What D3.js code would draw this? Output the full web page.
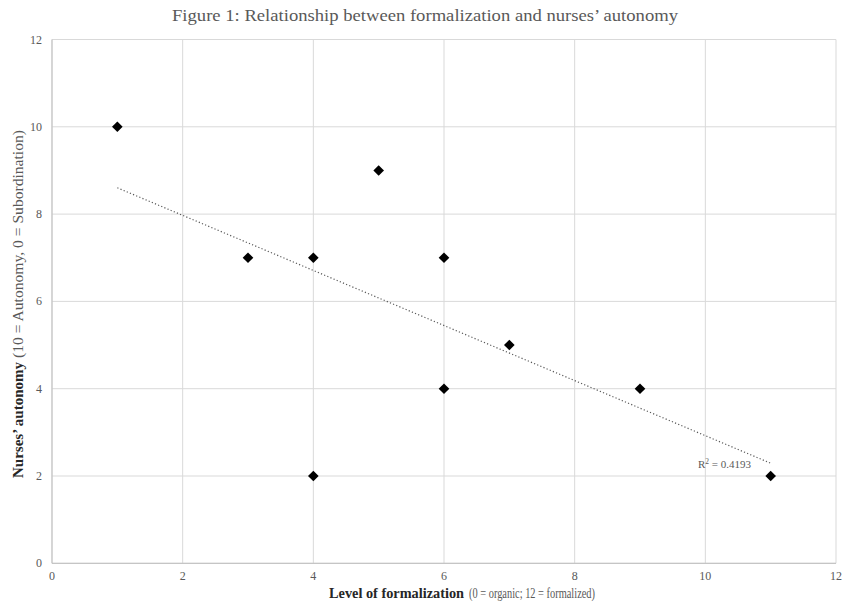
<!DOCTYPE html>
<html><head><meta charset="utf-8">
<script src="https://cdn.jsdelivr.net/npm/d3@7"></script>
<style>body{margin:0;background:#fff}</style>
</head><body>
<svg id="c" width="843" height="604"></svg>
<script>
const formalization = [1, 3, 4, 4, 5, 6, 6, 7, 9, 11];
const autonomy =      [10, 7, 7, 2, 9, 7, 4, 5, 4, 2];
const xTicks = [0, 2, 4, 6, 8, 10, 12];
const yTicks = [0, 2, 4, 6, 8, 10, 12];
const titleText = "Figure 1: Relationship between formalization and nurses\u2019 autonomy";

const svg = d3.select("#c");
const font = "'Liberation Serif', 'DejaVu Serif', serif";
const m = {l: 52, r: 843 - 836, t: 39.5, b: 604 - 563.3};
const x = d3.scaleLinear().domain([0, 12]).range([m.l, 843 - m.r]);
const y = d3.scaleLinear().domain([0, 12]).range([604 - m.b, m.t]);

// gridlines
svg.append("g").selectAll("line").data(xTicks).join("line")
  .attr("x1", d => x(d)).attr("x2", d => x(d)).attr("y1", y(0)).attr("y2", y(12))
  .attr("stroke", "#d9d9d9").attr("stroke-width", 1);
svg.append("g").selectAll("line").data(yTicks).join("line")
  .attr("x1", x(0)).attr("x2", x(12)).attr("y1", d => y(d)).attr("y2", d => y(d))
  .attr("stroke", "#d9d9d9").attr("stroke-width", 1);

// axes lines
svg.append("line").attr("x1", x(0)).attr("x2", x(12)).attr("y1", y(0)).attr("y2", y(0)).attr("stroke", "#bfbfbf");
svg.append("line").attr("x1", x(0)).attr("x2", x(0)).attr("y1", y(0)).attr("y2", y(12)).attr("stroke", "#bfbfbf");

// tick labels
svg.append("g").selectAll("text").data(xTicks).join("text")
  .attr("x", d => x(d)).attr("y", y(0) + 17).attr("text-anchor", "middle")
  .attr("font-family", font).attr("font-size", 12).attr("fill", "#595959").text(d => d);
svg.append("g").selectAll("text").data(yTicks).join("text")
  .attr("x", x(0) - 10).attr("y", d => y(d) + 4).attr("text-anchor", "end")
  .attr("font-family", font).attr("font-size", 12).attr("fill", "#595959").text(d => d);

// trendline (least squares)
const n = formalization.length;
const mx = d3.mean(formalization), my = d3.mean(autonomy);
let sxy = 0, sxx = 0;
for (let i = 0; i < n; i++) { sxy += (formalization[i]-mx)*(autonomy[i]-my); sxx += (formalization[i]-mx)**2; }
const slope = sxy / sxx, icpt = my - slope * mx;
const [x0, x1] = d3.extent(formalization);
svg.append("line")
  .attr("x1", x(x0)).attr("y1", y(icpt + slope*x0))
  .attr("x2", x(x1)).attr("y2", y(icpt + slope*x1))
  .attr("stroke", "#595959").attr("stroke-width", 1.2).attr("stroke-dasharray", "1.2,2.2");

// points
const diamond = d3.symbol().type(d3.symbolDiamond2).size(72);
svg.append("g").selectAll("path").data(formalization.map((v, i) => [v, autonomy[i]])).join("path")
  .attr("d", diamond).attr("transform", d => `translate(${x(d[0])},${y(d[1])})`)
  .attr("fill", "#000");

// R² label
svg.append("text").attr("x", 698).attr("y", 468).attr("text-anchor", "start")
  .attr("font-family", font).attr("font-size", 11).attr("fill", "#595959")
  .html('R<tspan dy="-4" font-size="7.5">2</tspan><tspan dy="4"> = 0.4193</tspan>');

// title
svg.append("text").attr("x", 172).attr("y", 21).attr("text-anchor", "start")
  .attr("font-family", font).attr("font-size", 17).attr("fill", "#595959")
  .attr("textLength", 506).attr("lengthAdjust", "spacingAndGlyphs").text(titleText);

// x axis title
svg.append("text").attr("x", 329).attr("y", 598)
  .attr("font-family", font).attr("font-size", 14).attr("font-weight", "bold").attr("fill", "#262626")
  .attr("textLength", 135).attr("lengthAdjust", "spacingAndGlyphs").text("Level of formalization");
svg.append("text").attr("x", 469).attr("y", 598)
  .attr("font-family", font).attr("font-size", 14).attr("fill", "#595959")
  .attr("textLength", 126).attr("lengthAdjust", "spacingAndGlyphs").text("(0 = organic; 12 = formalized)");

// y axis title
svg.append("text").attr("transform", "translate(23,478) rotate(-90)")
  .attr("font-family", font).attr("font-size", 14).attr("font-weight", "bold").attr("fill", "#262626")
  .attr("textLength", 116).attr("lengthAdjust", "spacingAndGlyphs").text("Nurses\u2019 autonomy");
svg.append("text").attr("transform", "translate(23,358) rotate(-90)")
  .attr("font-family", font).attr("font-size", 14).attr("fill", "#595959")
  .attr("textLength", 228).attr("lengthAdjust", "spacingAndGlyphs").text("(10 = Autonomy, 0 = Subordination)");
</script>
</body></html>
